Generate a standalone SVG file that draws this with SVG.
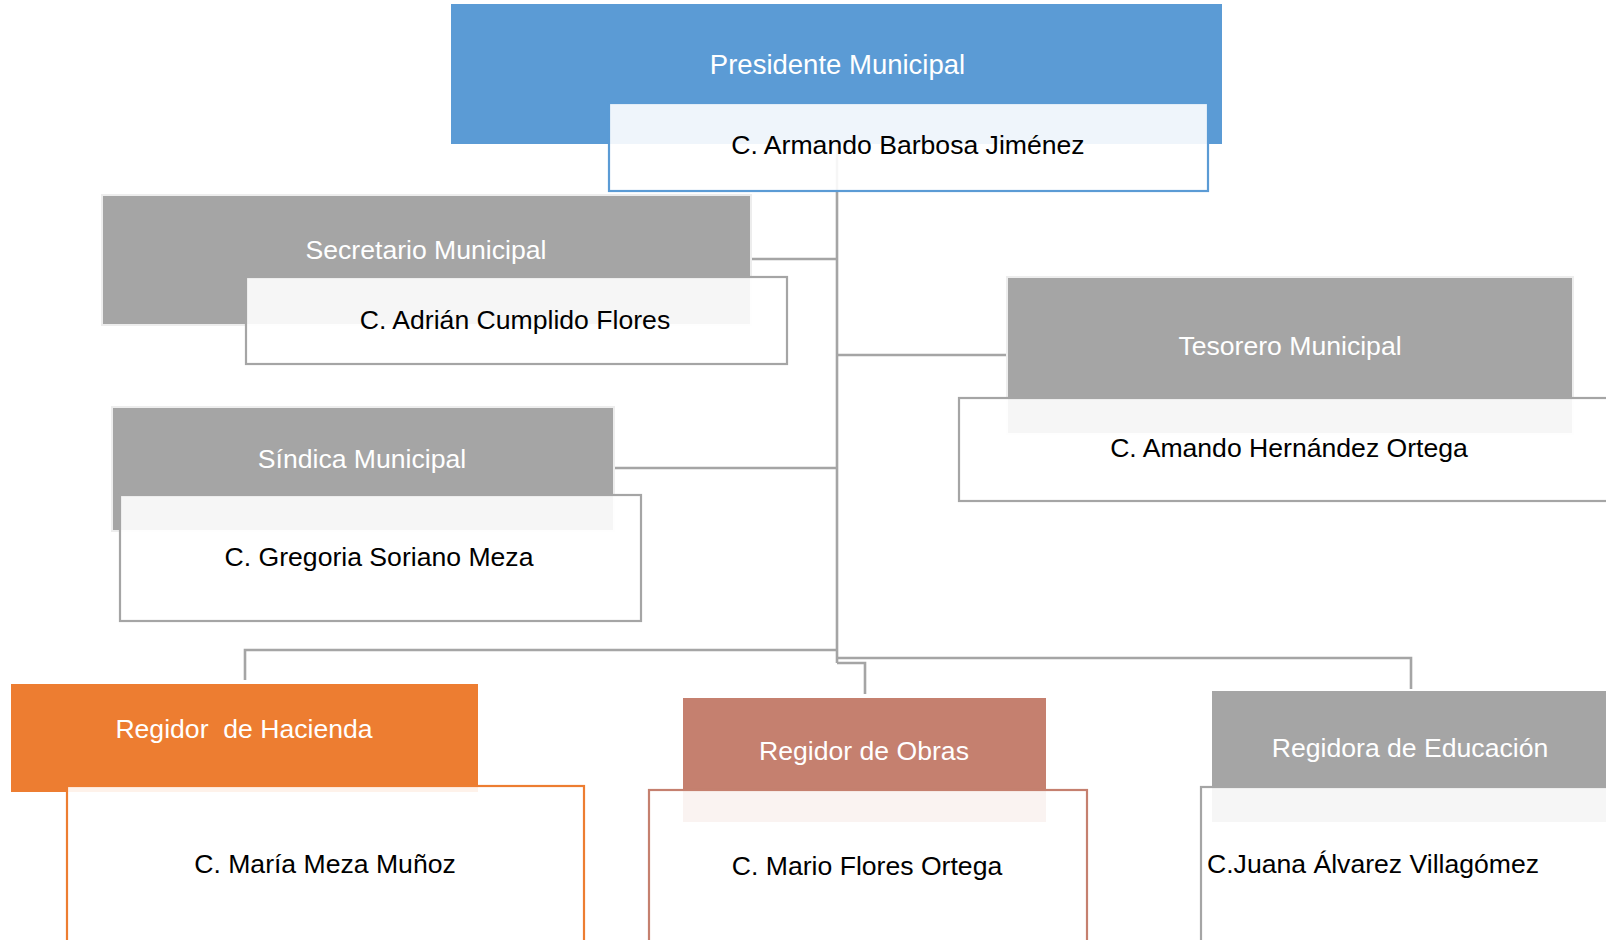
<svg xmlns="http://www.w3.org/2000/svg" width="1606" height="940" viewBox="0 0 1606 940">
<style>
text{font-family:"Liberation Sans",Arial,sans-serif;font-size:26.6px;text-anchor:middle}
.t{fill:#fff}
.n{fill:#000}
.hd{stroke:#EDEDED;stroke-width:2}
.nb{fill:#fff;fill-opacity:0.9;stroke-width:2.2}
.c{fill:none;stroke:#A5A5A5;stroke-width:2.6}
</style>
<rect width="1606" height="940" fill="#fff"/>
<g id="connectors">
<path class="c" d="M837,144 V663"/>
<path class="c" d="M752,259 H837"/>
<path class="c" d="M837,355 H1006"/>
<path class="c" d="M615,468 H837"/>
<path class="c" d="M837,650 H245 V680"/>
<path class="c" d="M837,658 H1411 V689"/>
<path class="c" d="M837,663 H865 V694"/>
</g>
<g id="presidente">
<rect x="451" y="4" width="771" height="140" fill="#5B9BD5"/>
<text class="t" x="837.5" y="74" style="font-size:27.5px">Presidente Municipal</text>
<rect class="nb" x="609" y="103" width="599" height="88" stroke="#5B9BD5"/>
<text class="n" x="908" y="154">C. Armando Barbosa Jiménez</text>
</g>
<g id="secretario">
<rect class="hd" x="102" y="195" width="649" height="130" fill="#A5A5A5"/>
<text class="t" x="426" y="259">Secretario Municipal</text>
<rect class="nb" x="246" y="277" width="541" height="87" stroke="#A5A5A5"/>
<text class="n" x="515" y="329">C. Adrián Cumplido Flores</text>
</g>
<g id="sindica">
<rect class="hd" x="112" y="407" width="502" height="124" fill="#A5A5A5"/>
<text class="t" x="362" y="468">Síndica Municipal</text>
<rect class="nb" x="120" y="495" width="521" height="126" stroke="#A5A5A5"/>
<text class="n" x="379" y="566">C. Gregoria Soriano Meza</text>
</g>
<g id="tesorero">
<rect class="hd" x="1007" y="277" width="566" height="157" fill="#A5A5A5"/>
<text class="t" x="1290" y="355">Tesorero Municipal</text>
<rect class="nb" x="959" y="398" width="700" height="103" stroke="#A5A5A5"/>
<text class="n" x="1289" y="457">C. Amando Hernández Ortega</text>
</g>
<g id="hacienda">
<rect x="11" y="684" width="467" height="108" fill="#ED7D31"/>
<text class="t" x="244" y="738" xml:space="preserve">Regidor  de Hacienda</text>
<rect class="nb" x="67" y="786" width="517" height="200" stroke="#ED7D31"/>
<text class="n" x="325" y="873">C. María Meza Muñoz</text>
</g>
<g id="obras">
<rect x="683" y="698" width="363" height="124" fill="#C5806F"/>
<text class="t" x="864" y="760">Regidor de Obras</text>
<rect class="nb" x="649" y="790" width="438" height="200" stroke="#C5806F"/>
<text class="n" x="867" y="875">C. Mario Flores Ortega</text>
</g>
<g id="educacion">
<rect x="1212" y="691" width="420" height="131" fill="#A5A5A5"/>
<text class="t" x="1410" y="757">Regidora de Educación</text>
<rect class="nb" x="1201" y="787" width="450" height="200" stroke="#A5A5A5"/>
<text class="n" x="1207" y="873" style="text-anchor:start">C.Juana Álvarez Villagómez</text>
</g>
</svg>
